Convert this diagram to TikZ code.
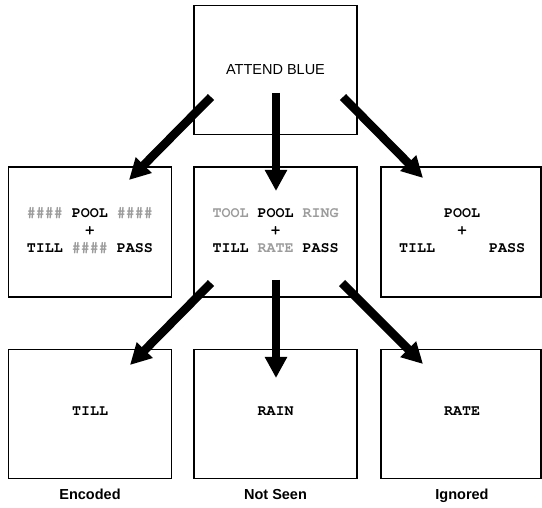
\documentclass[tikz,border=0pt]{standalone}
\usepackage{fontspec}
\setmainfont{Liberation Sans}
\newfontfamily\boxmono{texgyrecursor}[Extension=.otf,UprightFont=*-regular,BoldFont=*-bold]
\usetikzlibrary{arrows.meta}
\definecolor{dimtext}{HTML}{9C9C9C}
\tikzset{
  panel/.style={draw=black, line width=1.8pt, fill=none, minimum width=163pt, minimum height=129pt, inner sep=0pt},
  monotext/.style={font=\boxmono\bfseries\fontsize{15}{17.8}\selectfont, align=center, inner sep=0pt},
  captext/.style={font=\bfseries\fontsize{14.5}{17}\selectfont, inner sep=0pt, anchor=base},
  bigarrow/.style={line width=8.5pt, -{Triangle[length=21pt,width=21pt]}}
}
\newcommand{\dimw}[1]{\textcolor{dimtext}{#1}}
\begin{document}
\begin{tikzpicture}[x=1pt,y=-1pt]
\useasboundingbox (0,0) rectangle (542,508);
% boxes
\node[panel] (top) at (275.5,70) {};
\node[panel, minimum height=130pt] (m1) at (90,232) {};
\node[panel, minimum height=130pt] (m2) at (275.5,232) {};
\node[panel, minimum height=130pt, minimum width=160pt] (m3) at (461,232) {};
\node[panel] (b1) at (90,414) {};
\node[panel] (b2) at (275.5,414) {};
\node[panel, minimum width=160pt] (b3) at (461,414) {};
% texts
\node[font=\fontsize{14.5}{17}\selectfont, inner sep=0pt] (ttop) at (top.center) {ATTEND BLUE};
\node[monotext] (t1) at (90,230.5) {\dimw{\#\#\#\#} POOL \dimw{\#\#\#\#}\\+\\TILL \dimw{\#\#\#\#} PASS};
\node[monotext] (t2) at (275.5,230.5) {\dimw{TOOL} POOL \dimw{RING}\\+\\TILL \dimw{RATE} PASS};
\node[monotext] (t3) at (462,230.5) {\phantom{\#\#\#\#} POOL \phantom{\#\#\#\#}\\+\\TILL \phantom{\#\#\#\#} PASS};
\node[monotext] (u1) at (90,411) {TILL};
\node[monotext] (u2) at (275.5,411) {RAIN};
\node[monotext] (u3) at (462,411) {RATE};
\node[captext] (c1) at (90,500) {Encoded};
\node[captext] (c2) at (275.5,500) {Not Seen};
\node[captext] (c3) at (462,500) {Ignored};
% arrow end points
\coordinate (s1) at (211,97);
\coordinate (s2) at (276,93);
\coordinate (s3) at (343,97);
\coordinate (e1) at (129,180);
\coordinate (e2) at (276,191);
\coordinate (e3) at (423,178);
\coordinate (r1) at (211,283);
\coordinate (r2) at (276,280);
\coordinate (r3) at (342,283);
\coordinate (f1) at (130,365);
\coordinate (f2) at (276,378);
\coordinate (f3) at (423,364);
\draw[bigarrow] (s1) -- (e1);
\draw[bigarrow] (s2) -- (e2);
\draw[bigarrow] (s3) -- (e3);
\draw[bigarrow] (r1) -- (f1);
\draw[bigarrow] (r2) -- (f2);
\draw[bigarrow] (r3) -- (f3);
\end{tikzpicture}
\end{document}
